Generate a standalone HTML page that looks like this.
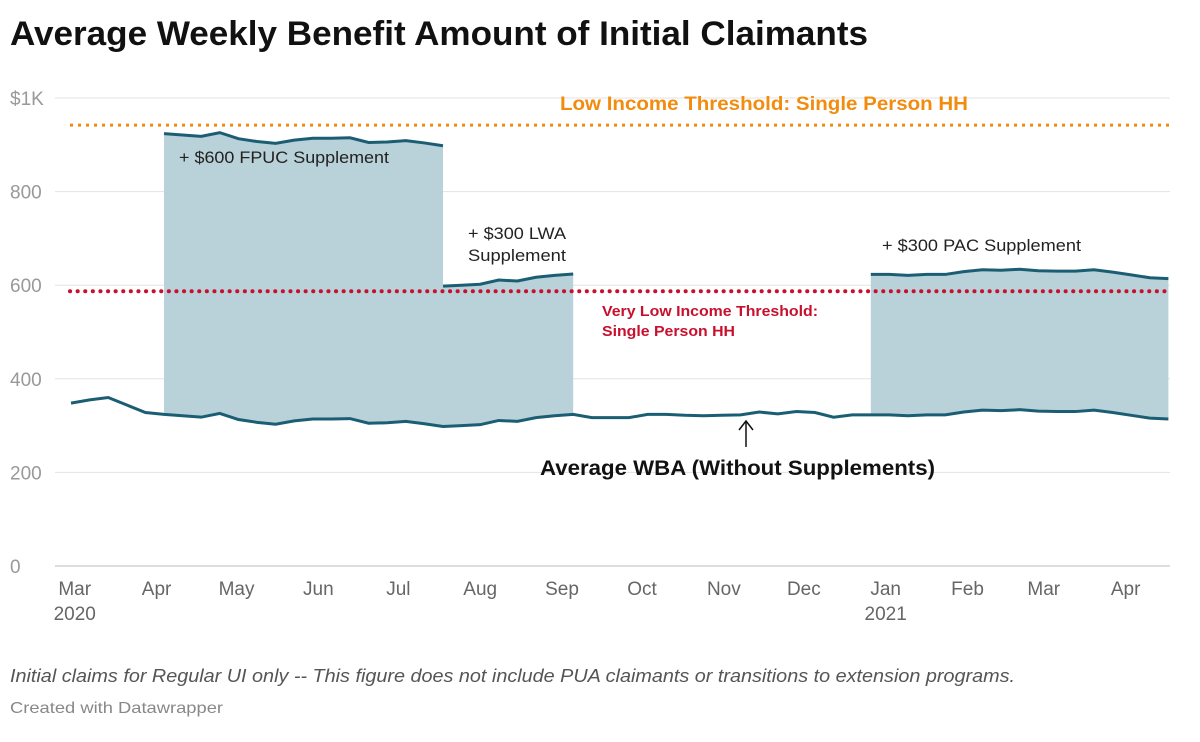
<!DOCTYPE html>
<html><head><meta charset="utf-8"><style>
body{margin:0;background:#fff;width:1200px;height:737px;overflow:hidden;font-family:"Liberation Sans",sans-serif}
</style></head><body>
<svg id="chart" width="1200" height="737" xmlns="http://www.w3.org/2000/svg" font-family="Liberation Sans, sans-serif">
<text x="10" y="45" font-size="34" font-weight="bold" fill="#111" textLength="858" lengthAdjust="spacingAndGlyphs">Average Weekly Benefit Amount of Initial Claimants</text>
<g id="grid"></g>
<g id="areas"></g>
<g id="lines"></g>
<g id="xaxis"></g>
<text x="560" y="110" font-size="19" font-weight="bold" fill="#f28c0f" textLength="408" lengthAdjust="spacingAndGlyphs">Low Income Threshold: Single Person HH</text>
<text x="602" y="316" font-size="15" font-weight="bold" fill="#c8102e" textLength="216" lengthAdjust="spacingAndGlyphs">Very Low Income Threshold:</text>
<text x="602" y="336" font-size="15" font-weight="bold" fill="#c8102e" textLength="133" lengthAdjust="spacingAndGlyphs">Single Person HH</text>
<text x="179" y="163" font-size="17" fill="#222" textLength="210" lengthAdjust="spacingAndGlyphs">+ $600 FPUC Supplement</text>
<text x="468" y="239" font-size="17" fill="#222" textLength="98" lengthAdjust="spacingAndGlyphs">+ $300 LWA</text>
<text x="468" y="261" font-size="17" fill="#222" textLength="98" lengthAdjust="spacingAndGlyphs">Supplement</text>
<text x="882" y="251" font-size="17" fill="#222" textLength="199" lengthAdjust="spacingAndGlyphs">+ $300 PAC Supplement</text>
<line x1="746" y1="447" x2="746" y2="422" stroke="#111" stroke-width="1.5"/>
<path d="M739 430 L746 421 L753 430" fill="none" stroke="#111" stroke-width="1.5"/>
<text x="540" y="475" font-size="21" font-weight="bold" fill="#111" textLength="395" lengthAdjust="spacingAndGlyphs">Average WBA (Without Supplements)</text>
<text x="10" y="682" font-size="18" font-style="italic" fill="#555" textLength="1005" lengthAdjust="spacingAndGlyphs">Initial claims for Regular UI only -- This figure does not include PUA claimants or transitions to extension programs.</text>
<text x="10" y="713" font-size="16" fill="#888" textLength="213" lengthAdjust="spacingAndGlyphs">Created with Datawrapper</text>
</svg>
<script>
const yTicks=[0,200,400,600,800,1000];
const yTickLabels=["0","200","400","600","800","$1K"];
const monthLabels=["Mar","Apr","May","Jun","Jul","Aug","Sep","Oct","Nov","Dec","Jan","Feb","Mar","Apr"];
const yearLabels=["2020","","","","","","","","","","2021","","",""];
const monthWeekPos=[0.2,4.6,8.9,13.3,17.6,22.0,26.4,30.7,35.1,39.4,43.8,48.2,52.3,56.7];
const wba=[348,355,360,344,328,324,321,318,326,313,307,303,310,314,314,315,305,306,309,304,298,300,302,311,309,317,321,324,317,317,317,324,324,322,321,322,323,329,325,330,328,318,323,323,323,321,323,323,329,333,332,334,331,330,330,333,328,322,316,314];
const supplementNames=["fpuc","lwa","pac"];
const supplementAmounts=[600,300,300];
const supplementStart=[5,20,43];
const supplementEnd=[20,27,59];
const lowIncome=942;
const veryLowIncome=587;
const NS="http://www.w3.org/2000/svg";
const xS=i=>71+i*18.6;
const yS=v=>566-v*0.468;
function mk(tag,attrs,parent){const e=document.createElementNS(NS,tag);for(const k in attrs)e.setAttribute(k,attrs[k]);parent.appendChild(e);return e;}
const grid=document.getElementById('grid');
yTicks.forEach((t,i)=>{
  const l=mk('line',{x1:55,x2:1170,y1:yS(t),y2:yS(t),stroke:t===0?'#bbb':'#e3e3e3','stroke-width':1},grid);
  
  
  const tx=mk('text',{x:10,y:yS(t)+7,'font-size':19,fill:'#999'},grid);
  tx.textContent=yTickLabels[i];
  
  
});
const areas=document.getElementById('areas');
const lines=document.getElementById('lines');
supplementNames.forEach((n,k)=>{
  let top=[],bot=[];
  for(let i=supplementStart[k];i<=supplementEnd[k];i++){top.push(xS(i)+','+yS(wba[i]+supplementAmounts[k]));bot.unshift(xS(i)+','+yS(wba[i]));}
  const p=mk('polygon',{points:top.concat(bot).join(' '),fill:'#b9d1d9'},areas);
  
  
  const l=mk('polyline',{points:top.join(' '),fill:'none',stroke:'#1b5e74','stroke-width':3},lines);
  
  
});
const th1=mk('line',{x1:70,x2:1170,y1:yS(lowIncome),y2:yS(lowIncome),stroke:'#f28c0f','stroke-width':3,'stroke-dasharray':'3 5'},lines);


const th2=mk('line',{x1:70,x2:1170,y1:yS(veryLowIncome),y2:yS(veryLowIncome),stroke:'#c8102e','stroke-width':4,'stroke-dasharray':'0.1 7.5','stroke-linecap':'round'},lines);


const base=mk('polyline',{points:wba.map((v,i)=>xS(i)+','+yS(v)).join(' '),fill:'none',stroke:'#1b5e74','stroke-width':3},lines);


const xa=document.getElementById('xaxis');
monthLabels.forEach((m,i)=>{
  const x=xS(monthWeekPos[i]);
  const t=mk('text',{x:x,y:595,'font-size':19,fill:'#666','text-anchor':'middle'},xa);
  t.textContent=m;
  
  
  if(yearLabels[i]){
    const y=mk('text',{x:x,y:620,'font-size':19,fill:'#666','text-anchor':'middle'},xa);
    y.textContent=yearLabels[i];
    
    
  }
});
</script>
</body></html>
